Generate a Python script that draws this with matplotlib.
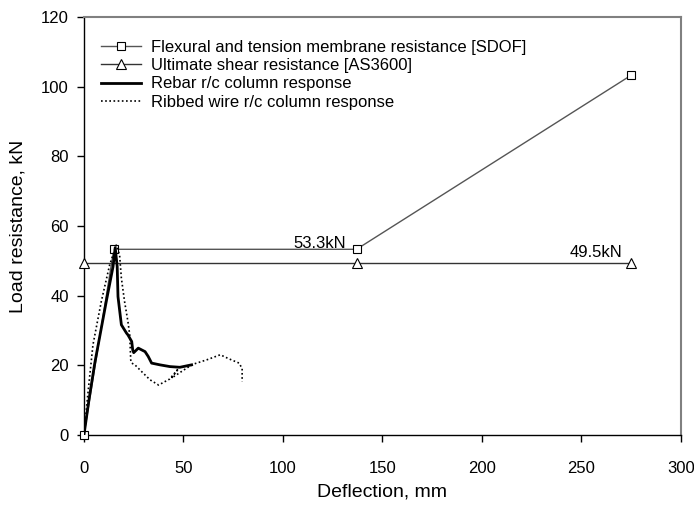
import matplotlib
matplotlib.use("Agg")
import matplotlib.pyplot as plt

plt.rcParams["font.family"] = ["Liberation Sans", "DejaVu Sans"]

# Flexural and tension membrane resistance [SDOF]
sdof_x = [0, 15, 137, 275]
sdof_y = [0, 53.3, 53.3, 103.3]

# Ultimate shear resistance [AS3600]
shear_x = [0, 137, 275]
shear_y = [49.5, 49.5, 49.5]

# Rebar r/c column response
rebar_x = [0, 2.5, 5.4, 8.5, 11.2, 14.6, 15.7, 16.7, 17.1, 18.8, 21.4, 22.1,
           24.0, 24.5, 25.0, 27.3, 30.7, 32.3, 34.0, 38.2, 43.2, 48.2, 54.1]
rebar_y = [0, 10.0, 20.5, 30.0, 38.3, 48.3, 53.8, 48.3, 39.7, 31.6, 29.2, 28.7,
           26.8, 24.4, 23.6, 24.9, 23.9, 22.5, 20.6, 20.1, 19.6, 19.4, 20.1]

# Ribbed wire r/c column response
ribbed_x = [0, 2.0, 4.5, 8.7, 12.9, 15.4, 16.2, 17.9, 18.8, 20.4, 22.1, 23.0,
            23.5, 24.0, 25.6, 29.8, 33.2, 37.5, 43.0, 47.5, 44.0, 52.0, 55.0,
            62.0, 68.5, 73.0, 78.0, 79.5, 79.5]
ribbed_y = [0, 12.0, 25.8, 38.3, 48.8, 53.1, 54.5, 51.7, 45.0, 38.3, 32.5, 28.7,
            21.5, 20.6, 20.1, 17.7, 15.8, 14.3, 16.0, 19.0, 16.3, 19.3, 20.3,
            21.6, 23.0, 21.8, 20.6, 19.0, 15.3]

fig = plt.figure(figsize=(6.94, 5.05), dpi=100)
ax = fig.add_axes([0.121, 0.139, 0.860, 0.827])

ax.plot(sdof_x, sdof_y, color="#555555", lw=1.0, marker="s", ms=6,
        mfc="white", mec="black", mew=0.8, clip_on=False, zorder=3,
        label="Flexural and tension membrane resistance [SDOF]")
ax.plot(shear_x, shear_y, color="#333333", lw=1.0, marker="^", ms=7,
        mfc="white", mec="black", mew=0.8, clip_on=False, zorder=3,
        label="Ultimate shear resistance [AS3600]")
ax.plot(rebar_x, rebar_y, color="black", lw=2.0, zorder=4,
        label="Rebar r/c column response")
ax.plot(ribbed_x, ribbed_y, color="black", lw=1.2, ls=(0, (1, 1.5)), zorder=4,
        label="Ribbed wire r/c column response")

ax.text(131.7, 55.1, "53.3kN", fontsize=12, ha="right", va="center")
ax.text(270.4, 52.5, "49.5kN", fontsize=12, ha="right", va="center")

ax.set_xlim(0, 300)
ax.set_ylim(0, 120)
ax.set_xticks(range(0, 301, 50))
ax.set_yticks(range(0, 121, 20))
ax.tick_params(axis="both", labelsize=12, direction="out", length=5, width=1)
ax.tick_params(axis="x", pad=14)
ax.tick_params(axis="y", pad=6)

for side in ("top", "right"):
    ax.spines[side].set_color("#808080")
    ax.spines[side].set_linewidth(1.5)
for side in ("left", "bottom"):
    ax.spines[side].set_color("black")
    ax.spines[side].set_linewidth(1.0)

ax.set_xlabel("Deflection, mm", fontsize=14)
ax.set_ylabel("Load resistance, kN", fontsize=14)
ax.xaxis.set_label_coords(0.5, -0.117)
ax.yaxis.set_label_coords(-0.097, 0.5)

ax.legend(loc="upper left", bbox_to_anchor=(0.018, 0.962), frameon=False,
          fontsize=12, handlelength=2.4, handletextpad=0.55, labelspacing=0.2,
          borderaxespad=0.0)

fig.savefig("out.png", dpi=100)
